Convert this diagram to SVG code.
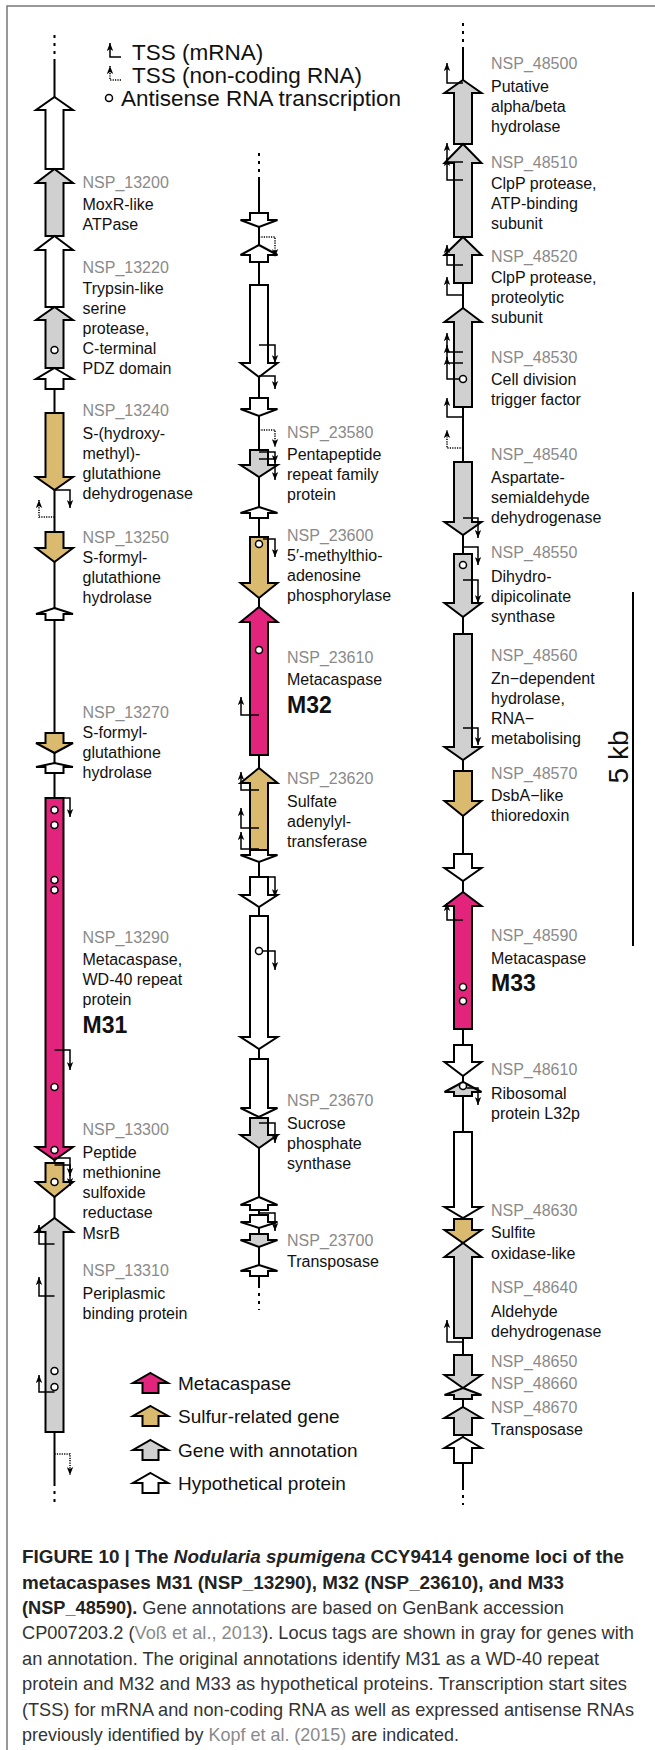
<svg xmlns="http://www.w3.org/2000/svg" width="655" height="1750" viewBox="0 0 655 1750">
<defs>
<style>
.ax{stroke:#000;stroke-width:2;fill:none}
.dash{stroke:#000;stroke-width:2;fill:none;stroke-dasharray:3 5}
.g{stroke:#000;stroke-width:2;stroke-linejoin:miter}
.wh{fill:#fff}.gr{fill:#d0d0d0}.tan{fill:#d9ba6e}.mag{fill:#e2247c}
.tss{stroke:#000;stroke-width:1.5;fill:none;marker-end:url(#ah)}
.nc{stroke:#000;stroke-width:1.5;fill:none;stroke-dasharray:1.2 1.2;marker-end:url(#ah)}
.as{fill:#fff;stroke:#000;stroke-width:1.5}
text{font-family:"Liberation Sans",Arial,sans-serif}
.tag{font-size:16px;fill:#8a8a8a}
.lbl{font-size:16px;fill:#111}
.big{font-size:23px;font-weight:bold;fill:#111}
.leg{font-size:22.5px;fill:#111}
.leg2{font-size:19px;fill:#111}
.cap{font-size:18.5px;fill:#333}
.capb{font-weight:bold;fill:#222}
.link{fill:#8a8a8a}
</style>
<marker id="ah" viewBox="0 0 10 8" refX="10" refY="4" markerWidth="8" markerHeight="7" orient="auto" markerUnits="userSpaceOnUse"><path d="M0,0 L10,4 L0,8 L2.5,4 Z" fill="#000"/></marker>
</defs>
<rect x="0" y="0" width="655" height="1750" fill="#fff"/>
<path d="M7,1750 V6 H655" fill="none" stroke="#777" stroke-width="1.5"/>

<g id="legend-top">
<path class="tss" d="M121,57 H110 V43"/>
<text class="leg" x="132" y="60">TSS (mRNA)</text>
<path class="nc" d="M121,80 H110 V66"/>
<text class="leg" x="132" y="83">TSS (non-coding RNA)</text>
<circle class="as" cx="109" cy="98" r="3.5"/>
<text class="leg" x="121" y="106">Antisense RNA transcription</text>
</g>

<g id="connectors">
<path class="dash" d="M54.5,35 V60"/>
<path class="ax" d="M54.5,60 V1483"/>
<path class="dash" d="M54.5,1483 V1505"/>
<path class="dash" d="M259,153 V177"/>
<path class="ax" d="M259,177 V1285"/>
<path class="dash" d="M259,1285 V1310"/>
<path class="dash" d="M463,23 V47"/>
<path class="ax" d="M463,47 V1487"/>
<path class="dash" d="M463,1487 V1505"/>
</g>

<g id="col1">
<polygon id="a1" class="g wh" points="54.5,97 73,110 63.5,110 63.5,169 45.5,169 45.5,110 36,110"/>
<polygon id="NSP_13200" class="g gr" points="54.5,169 73,183 63.5,183 63.5,236 45.5,236 45.5,183 36,183"/>
<polygon id="a3" class="g wh" points="54.5,236 73,250 63.5,250 63.5,307 45.5,307 45.5,250 36,250"/>
<polygon id="NSP_13220" class="g gr" points="54.5,307 73,320 63.5,320 63.5,368 45.5,368 45.5,320 36,320"/>
<polygon id="a5" class="g wh" points="54.5,368 73,379 63.5,379 63.5,389 45.5,389 45.5,379 36,379"/>
<polygon id="NSP_13240" class="g tan" points="45.5,413 63.5,413 63.5,477 73,477 54.5,490 36,477 45.5,477"/>
<polygon id="NSP_13250" class="g tan" points="45.5,532 63.5,532 63.5,548 73,548 54.5,562 36,548 45.5,548"/>
<polygon id="a8" class="g wh" points="54.5,608 73,614 63.5,614 63.5,620 45.5,620 45.5,614 36,614"/>
<polygon id="NSP_13270" class="g tan" points="45.5,733 63.5,733 63.5,743 73,743 54.5,753 36,743 45.5,743"/>
<polygon id="a10" class="g wh" points="54.5,763 73,767 63.5,767 63.5,773 45.5,773 45.5,767 36,767"/>
<polygon id="NSP_13290" class="g mag" points="45.5,798 63.5,798 63.5,1147 73,1147 54.5,1160 36,1147 45.5,1147"/>
<polygon id="NSP_13300" class="g tan" points="45.5,1163 63.5,1163 63.5,1182 73,1182 54.5,1197 36,1182 45.5,1182"/>
<polygon id="NSP_13310" class="g gr" points="54.5,1218 73,1232 63.5,1232 63.5,1432 45.5,1432 45.5,1232 36,1232"/>
<path class="tss" d="M54.5,490 H70 V508"/>
<path class="nc" d="M54.5,517 H39 V500"/>
<path class="tss" d="M54.5,798 H70 V817"/>
<path class="tss" d="M54.5,1050 H70 V1070"/>
<path class="tss" d="M54.5,1158 H70 V1176"/>
<path class="tss" d="M54.5,1165 H70 V1186"/>
<path class="tss" d="M54.5,1244 H39 V1225"/>
<path class="tss" d="M54.5,1296 H39 V1277"/>
<path class="tss" d="M54.5,1392 H39 V1375"/>
<path class="nc" d="M54.5,1454 H70 V1475"/>
<circle class="as" cx="54.5" cy="350" r="3.5"/>
<circle class="as" cx="54.5" cy="810" r="3.5"/>
<circle class="as" cx="54.5" cy="825" r="3.5"/>
<circle class="as" cx="54.5" cy="880" r="3.5"/>
<circle class="as" cx="54.5" cy="890" r="3.5"/>
<circle class="as" cx="54.5" cy="1087" r="3.5"/>
<circle class="as" cx="54.5" cy="1150" r="3.5"/>
<circle class="as" cx="54.5" cy="1182" r="3.5"/>
<circle class="as" cx="54.5" cy="1371" r="3.5"/>
<circle class="as" cx="54.5" cy="1387" r="3.5"/>
</g>

<g id="col1-labels">
<text class="tag" x="82.5" y="187.5">NSP_13200</text>
<text class="lbl" x="82.5" y="209.5">MoxR-like</text>
<text class="lbl" x="82.5" y="229.5">ATPase</text>
<text class="tag" x="82.5" y="272.5">NSP_13220</text>
<text class="lbl" x="82.5" y="293.5">Trypsin-like</text>
<text class="lbl" x="82.5" y="313.5">serine</text>
<text class="lbl" x="82.5" y="333.5">protease,</text>
<text class="lbl" x="82.5" y="353.5">C-terminal</text>
<text class="lbl" x="82.5" y="373.5">PDZ domain</text>
<text class="tag" x="82.5" y="415.5">NSP_13240</text>
<text class="lbl" x="82.5" y="438.5">S-(hydroxy-</text>
<text class="lbl" x="82.5" y="458.5">methyl)-</text>
<text class="lbl" x="82.5" y="478.5">glutathione</text>
<text class="lbl" x="82.5" y="498.5">dehydrogenase</text>
<text class="tag" x="82.5" y="542.5">NSP_13250</text>
<text class="lbl" x="82.5" y="562.5">S-formyl-</text>
<text class="lbl" x="82.5" y="582.5">glutathione</text>
<text class="lbl" x="82.5" y="602.5">hydrolase</text>
<text class="tag" x="82.5" y="717.5">NSP_13270</text>
<text class="lbl" x="82.5" y="737.5">S-formyl-</text>
<text class="lbl" x="82.5" y="757.5">glutathione</text>
<text class="lbl" x="82.5" y="777.5">hydrolase</text>
<text class="tag" x="82.5" y="942.5">NSP_13290</text>
<text class="lbl" x="82.5" y="964.5">Metacaspase,</text>
<text class="lbl" x="82.5" y="984.5">WD-40 repeat</text>
<text class="lbl" x="82.5" y="1004.5">protein</text>
<text class="big" x="82.5" y="1033">M31</text>
<text class="tag" x="82.5" y="1134.5">NSP_13300</text>
<text class="lbl" x="82.5" y="1157.5">Peptide</text>
<text class="lbl" x="82.5" y="1177.5">methionine</text>
<text class="lbl" x="82.5" y="1197.5">sulfoxide</text>
<text class="lbl" x="82.5" y="1217.5">reductase</text>
<text class="lbl" x="82.5" y="1238.5">MsrB</text>
<text class="tag" x="82.5" y="1275.5">NSP_13310</text>
<text class="lbl" x="82.5" y="1298.5">Periplasmic</text>
<text class="lbl" x="82.5" y="1318.5">binding protein</text>
</g>

<g id="col2">
<polygon class="g wh" points="250,213 268,213 268,220 277.5,220 259,227 240.5,220 250,220"/>
<polygon class="g wh" points="259,245 277.5,255 268,255 268,262 250,262 250,255 240.5,255"/>
<polygon class="g wh" points="250,285 268,285 268,363 277.5,363 259,377 240.5,363 250,363"/>
<polygon class="g wh" points="250,398 268,398 268,409 277.5,409 259,416 240.5,409 250,409"/>
<polygon id="NSP_23580" class="g gr" points="250,450 268,450 268,465 277.5,465 259,477 240.5,465 250,465"/>
<polygon class="g wh" points="259,507 277.5,513 268,513 268,518 250,518 250,513 240.5,513"/>
<polygon id="NSP_23600" class="g tan" points="250,537 268,537 268,583 277.5,583 259,598 240.5,583 250,583"/>
<polygon id="NSP_23610" class="g mag" points="259,607 277.5,622 268,622 268,755 250,755 250,622 240.5,622"/>
<polygon id="NSP_23620" class="g tan" points="259,768 277.5,783 268,783 268,850 250,850 250,783 240.5,783"/>
<polygon class="g wh" points="250,850 268,850 268,855 277.5,855 259,862 240.5,855 250,855"/>
<polygon class="g wh" points="250,877 268,877 268,895 277.5,895 259,907 240.5,895 250,895"/>
<polygon class="g wh" points="250,916 268,916 268,1037 277.5,1037 259,1049 240.5,1037 250,1037"/>
<polygon class="g wh" points="250,1059 268,1059 268,1108 277.5,1108 259,1117 240.5,1108 250,1108"/>
<polygon id="NSP_23670" class="g gr" points="250,1118 268,1118 268,1135 277.5,1135 259,1148 240.5,1135 250,1135"/>
<polygon class="g wh" points="259,1197 277.5,1205 268,1205 268,1210 250,1210 250,1205 240.5,1205"/>
<polygon class="g wh" points="250,1215 268,1215 268,1222 277.5,1222 259,1228 240.5,1222 250,1222"/>
<polygon id="NSP_23700" class="g gr" points="250,1234 268,1234 268,1240 277.5,1240 259,1247 240.5,1240 250,1240"/>
<polygon class="g wh" points="259,1265 277.5,1271 268,1271 268,1276 250,1276 250,1271 240.5,1271"/>
<path class="nc" d="M259,237 H275 V257"/>
<path class="tss" d="M259,345 H275 V363"/>
<path class="tss" d="M259,376 H275 V389"/>
<path class="nc" d="M259,430 H275 V447"/>
<path class="tss" d="M259,452 H275 V463"/>
<path class="tss" d="M259,459 H275 V480"/>
<path class="tss" d="M263,539 H275 V557"/>
<path class="tss" d="M259,715 H241 V697"/>
<path class="tss" d="M259,790 H241 V772"/>
<path class="tss" d="M259,828 H241 V808"/>
<path class="tss" d="M259,849 H241 V832"/>
<path class="tss" d="M259,877 H275 V897"/>
<path class="tss" d="M262.5,951 H275 V970"/>
<path class="tss" d="M259,1123 H275 V1143"/>
<path class="tss" d="M259,1213 H275 V1231"/>
<circle class="as" cx="259" cy="544" r="3.5"/>
<circle class="as" cx="259" cy="650" r="3.5"/>
<circle class="as" cx="259" cy="951" r="3.5"/>
</g>

<g id="col2-labels">
<text class="tag" x="287" y="437.5">NSP_23580</text>
<text class="lbl" x="287" y="459.5">Pentapeptide</text>
<text class="lbl" x="287" y="479.5">repeat family</text>
<text class="lbl" x="287" y="499.5">protein</text>
<text class="tag" x="287" y="540.5">NSP_23600</text>
<text class="lbl" x="287" y="560.5">5′-methylthio-</text>
<text class="lbl" x="287" y="580.5">adenosine</text>
<text class="lbl" x="287" y="600.5">phosphorylase</text>
<text class="tag" x="287" y="662.5">NSP_23610</text>
<text class="lbl" x="287" y="684.5">Metacaspase</text>
<text class="big" x="287" y="713">M32</text>
<text class="tag" x="287" y="783.5">NSP_23620</text>
<text class="lbl" x="287" y="806.5">Sulfate</text>
<text class="lbl" x="287" y="827">adenylyl-</text>
<text class="lbl" x="287" y="847">transferase</text>
<text class="tag" x="287" y="1105.5">NSP_23670</text>
<text class="lbl" x="287" y="1128.5">Sucrose</text>
<text class="lbl" x="287" y="1148.5">phosphate</text>
<text class="lbl" x="287" y="1168.5">synthase</text>
<text class="tag" x="287" y="1246">NSP_23700</text>
<text class="lbl" x="287" y="1267">Transposase</text>
</g>

<g id="col3">
<polygon id="NSP_48500" class="g gr" points="463,80 481.5,93 472,93 472,144 454,144 454,93 444.5,93"/>
<polygon id="NSP_48510" class="g gr" points="463,144 481.5,163 472,163 472,237 454,237 454,163 444.5,163"/>
<polygon id="NSP_48520" class="g gr" points="463,237 481.5,255 472,255 472,283 454,283 454,255 444.5,255"/>
<polygon id="NSP_48530" class="g gr" points="463,308 481.5,322 472,322 472,407 454,407 454,322 444.5,322"/>
<polygon id="NSP_48540" class="g gr" points="454,462 472,462 472,522 481.5,522 463,535 444.5,522 454,522"/>
<polygon id="NSP_48550" class="g gr" points="454,554 472,554 472,603 481.5,603 463,617 444.5,603 454,603"/>
<polygon id="NSP_48560" class="g gr" points="454,634 472,634 472,747 481.5,747 463,760 444.5,747 454,747"/>
<polygon id="NSP_48570" class="g tan" points="454,771 472,771 472,801 481.5,801 463,816 444.5,801 454,801"/>
<polygon class="g wh" points="454,854 472,854 472,868 481.5,868 463,881 444.5,868 454,868"/>
<polygon id="NSP_48590" class="g mag" points="463,892 481.5,906 472,906 472,1029 454,1029 454,906 444.5,906"/>
<polygon class="g wh" points="454,1045 472,1045 472,1062 481.5,1062 463,1076 444.5,1062 454,1062"/>
<polygon id="NSP_48610" class="g gr" points="463,1082 481.5,1092 472,1092 472,1096 454,1096 454,1092 444.5,1092"/>
<polygon class="g wh" points="454,1132 472,1132 472,1207 481.5,1207 463,1218 444.5,1207 454,1207"/>
<polygon id="NSP_48630" class="g tan" points="454,1219 472,1219 472,1230 481.5,1230 463,1243 444.5,1230 454,1230"/>
<polygon id="NSP_48640" class="g gr" points="463,1243 481.5,1257 472,1257 472,1338 454,1338 454,1257 444.5,1257"/>
<polygon id="NSP_48650" class="g gr" points="454,1355 472,1355 472,1375 481.5,1375 463,1388 444.5,1375 454,1375"/>
<polygon id="NSP_48660" class="g gr" points="463,1388 481.5,1395 472,1395 472,1399 454,1399 454,1395 444.5,1395"/>
<polygon id="NSP_48670" class="g gr" points="463,1407 481.5,1418 472,1418 472,1435 454,1435 454,1418 444.5,1418"/>
<polygon class="g wh" points="463,1437 481.5,1448 472,1448 472,1463 454,1463 454,1448 444.5,1448"/>
<path class="tss" d="M463,83 H447 V63"/>
<path class="tss" d="M463,162 H447 V143"/>
<path class="tss" d="M463,180 H447 V158"/>
<path class="tss" d="M463,265 H447 V245"/>
<path class="tss" d="M463,295 H447 V277"/>
<path class="tss" d="M463,352 H447 V333"/>
<path class="tss" d="M463,363 H447 V345"/>
<path class="tss" d="M459.5,379 H447 V357"/>
<path class="tss" d="M463,417 H447 V398"/>
<path class="nc" d="M463,448 H447 V430"/>
<path class="tss" d="M463,518 H478 V538"/>
<path class="tss" d="M463,547 H478 V565"/>
<path class="tss" d="M463,580 H478 V603"/>
<path class="tss" d="M463,728 H478 V745"/>
<path class="tss" d="M463,920 H447 V903"/>
<path class="tss" d="M466.5,1088 H478 V1105"/>
<path class="tss" d="M463,1342 H447 V1320"/>
<circle class="as" cx="463" cy="379" r="3.5"/>
<circle class="as" cx="463" cy="565" r="3.5"/>
<circle class="as" cx="463" cy="987" r="3.5"/>
<circle class="as" cx="463" cy="1001" r="3.5"/>
<circle class="as" cx="463" cy="1086" r="3.5"/>
</g>

<g id="col3-labels">
<text class="tag" x="491" y="68.5">NSP_48500</text>
<text class="lbl" x="491" y="91.5">Putative</text>
<text class="lbl" x="491" y="111.5">alpha/beta</text>
<text class="lbl" x="491" y="131.5">hydrolase</text>
<text class="tag" x="491" y="167.5">NSP_48510</text>
<text class="lbl" x="491" y="188.5">ClpP protease,</text>
<text class="lbl" x="491" y="208.5">ATP-binding</text>
<text class="lbl" x="491" y="228.5">subunit</text>
<text class="tag" x="491" y="261.5">NSP_48520</text>
<text class="lbl" x="491" y="282.5">ClpP protease,</text>
<text class="lbl" x="491" y="302.5">proteolytic</text>
<text class="lbl" x="491" y="322.5">subunit</text>
<text class="tag" x="491" y="362.5">NSP_48530</text>
<text class="lbl" x="491" y="384.5">Cell division</text>
<text class="lbl" x="491" y="404.5">trigger factor</text>
<text class="tag" x="491" y="459.5">NSP_48540</text>
<text class="lbl" x="491" y="482.5">Aspartate-</text>
<text class="lbl" x="491" y="502.5">semialdehyde</text>
<text class="lbl" x="491" y="522.5">dehydrogenase</text>
<text class="tag" x="491" y="557.5">NSP_48550</text>
<text class="lbl" x="491" y="581.5">Dihydro-</text>
<text class="lbl" x="491" y="601.5">dipicolinate</text>
<text class="lbl" x="491" y="621.5">synthase</text>
<text class="tag" x="491" y="660.5">NSP_48560</text>
<text class="lbl" x="491" y="683.5">Zn−dependent</text>
<text class="lbl" x="491" y="703.5">hydrolase,</text>
<text class="lbl" x="491" y="723.5">RNA−</text>
<text class="lbl" x="491" y="743.5">metabolising</text>
<text class="tag" x="491" y="778.5">NSP_48570</text>
<text class="lbl" x="491" y="800.5">DsbA−like</text>
<text class="lbl" x="491" y="820.5">thioredoxin</text>
<text class="tag" x="491" y="940.5">NSP_48590</text>
<text class="lbl" x="491" y="963.5">Metacaspase</text>
<text class="big" x="491" y="991">M33</text>
<text class="tag" x="491" y="1074.5">NSP_48610</text>
<text class="lbl" x="491" y="1098.5">Ribosomal</text>
<text class="lbl" x="491" y="1118.5">protein L32p</text>
<text class="tag" x="491" y="1215.5">NSP_48630</text>
<text class="lbl" x="491" y="1237.5">Sulfite</text>
<text class="lbl" x="491" y="1258.5">oxidase-like</text>
<text class="tag" x="491" y="1292.5">NSP_48640</text>
<text class="lbl" x="491" y="1316.5">Aldehyde</text>
<text class="lbl" x="491" y="1336.5">dehydrogenase</text>
<text class="tag" x="491" y="1366.5">NSP_48650</text>
<text class="tag" x="491" y="1388.5">NSP_48660</text>
<text class="tag" x="491" y="1412.5">NSP_48670</text>
<text class="lbl" x="491" y="1434.5">Transposase</text>
</g>

<g id="scalebar">
<path d="M633,592 V946" stroke="#000" stroke-width="2"/>
<text x="0" y="0" font-size="28" fill="#111" text-anchor="middle" transform="translate(628,757) rotate(-90)">5 kb</text>
</g>

<g id="legend-bottom">
<polygon class="g mag" points="150.5,1373 168,1383 158.5,1383 158.5,1393 142.5,1393 142.5,1383 133,1383"/>
<text class="leg2" x="178" y="1390">Metacaspase</text>
<polygon class="g tan" points="150.5,1406 168,1416 158.5,1416 158.5,1426 142.5,1426 142.5,1416 133,1416"/>
<text class="leg2" x="178" y="1423">Sulfur-related gene</text>
<polygon class="g gr" points="150.5,1440 168,1450 158.5,1450 158.5,1460 142.5,1460 142.5,1450 133,1450"/>
<text class="leg2" x="178" y="1457">Gene with annotation</text>
<polygon class="g wh" points="150.5,1473 168,1483 158.5,1483 158.5,1493 142.5,1493 142.5,1483 133,1483"/>
<text class="leg2" x="178" y="1490">Hypothetical protein</text>
</g>

<g id="caption">
<text class="cap capb" x="22" y="1563" textLength="602" lengthAdjust="spacingAndGlyphs">FIGURE 10 | The <tspan font-style="italic">Nodularia spumigena</tspan> CCY9414 genome loci of the</text>
<text class="cap capb" x="22" y="1589" textLength="542" lengthAdjust="spacingAndGlyphs">metacaspases M31 (NSP_13290), M32 (NSP_23610), and M33</text>
<text class="cap" x="22" y="1614" textLength="542" lengthAdjust="spacingAndGlyphs"><tspan class="capb">(NSP_48590).</tspan> Gene annotations are based on GenBank accession</text>
<text class="cap" x="22" y="1639" textLength="612" lengthAdjust="spacingAndGlyphs">CP007203.2 (<tspan class="link">Voß et al., 2013</tspan>). Locus tags are shown in gray for genes with</text>
<text class="cap" x="22" y="1665" textLength="577" lengthAdjust="spacingAndGlyphs">an annotation. The original annotations identify M31 as a WD-40 repeat</text>
<text class="cap" x="22" y="1690" textLength="605" lengthAdjust="spacingAndGlyphs">protein and M32 and M33 as hypothetical proteins. Transcription start sites</text>
<text class="cap" x="22" y="1716" textLength="612" lengthAdjust="spacingAndGlyphs">(TSS) for mRNA and non-coding RNA as well as expressed antisense RNAs</text>
<text class="cap" x="22" y="1741" textLength="437" lengthAdjust="spacingAndGlyphs">previously identified by <tspan class="link">Kopf et al. (2015)</tspan> are indicated.</text>
</g>
</svg>
